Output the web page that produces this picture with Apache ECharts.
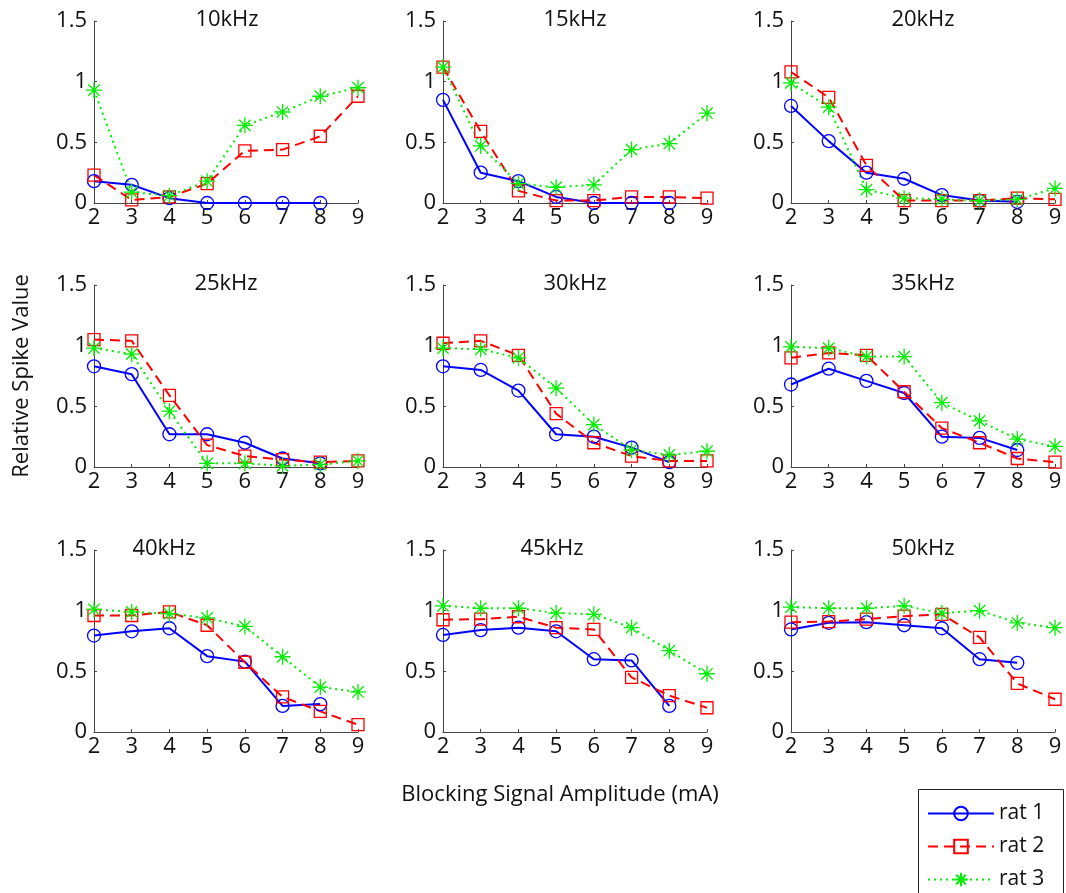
<!DOCTYPE html>
<html>
<head>
<meta charset="utf-8">
<script src="https://cdn.jsdelivr.net/npm/echarts@6/dist/echarts.min.js"></script>
<style>
  html, body { margin: 0; padding: 0; background: #fff; }
  #chart { width: 1066px; height: 893px; }
</style>
</head>
<body>
<div id="chart"></div>
<script>
// x values (mA)
const amplitudes = [2, 3, 4, 5, 6, 7, 8, 9]
const panelTitles = ['10kHz', '15kHz', '20kHz', '25kHz', '30kHz', '35kHz', '40kHz', '45kHz', '50kHz']
const seriesNames = ['rat 1', 'rat 2', 'rat 3']
const yTicks = [0, 0.5, 1, 1.5]

// rat 1 has no point at 9 mA
const rat1 = [
  [0.18, 0.15, 0.04, 0, 0, 0, 0],
  [0.85, 0.25, 0.18, 0.05, 0, 0, 0],
  [0.8, 0.51, 0.25, 0.2, 0.065, 0.02, 0.01],
  [0.83, 0.765, 0.27, 0.27, 0.2, 0.07, 0.03],
  [0.83, 0.8, 0.63, 0.27, 0.25, 0.16, 0.04],
  [0.68, 0.81, 0.71, 0.61, 0.25, 0.24, 0.14],
  [0.795, 0.83, 0.855, 0.625, 0.58, 0.215, 0.23],
  [0.8, 0.84, 0.86, 0.83, 0.6, 0.59, 0.215],
  [0.845, 0.9, 0.905, 0.88, 0.855, 0.6, 0.57]
]
const rat2 = [
  [0.23, 0.025, 0.05, 0.16, 0.43, 0.44, 0.55, 0.88],
  [1.12, 0.59, 0.1, 0.02, 0.02, 0.05, 0.05, 0.04],
  [1.08, 0.87, 0.31, 0.02, 0.02, 0.02, 0.04, 0.03],
  [1.05, 1.04, 0.59, 0.18, 0.09, 0.06, 0.04, 0.05],
  [1.02, 1.04, 0.92, 0.44, 0.2, 0.09, 0.05, 0.05],
  [0.9, 0.94, 0.92, 0.62, 0.32, 0.2, 0.07, 0.04],
  [0.96, 0.96, 0.99, 0.88, 0.575, 0.29, 0.17, 0.06],
  [0.925, 0.93, 0.95, 0.86, 0.845, 0.45, 0.3, 0.2],
  [0.905, 0.91, 0.93, 0.955, 0.97, 0.78, 0.4, 0.27]
]
const rat3 = [
  [0.93, 0.09, 0.06, 0.18, 0.64, 0.75, 0.88, 0.95],
  [1.12, 0.47, 0.16, 0.13, 0.15, 0.44, 0.49, 0.74],
  [0.99, 0.79, 0.11, 0.04, 0.03, 0.02, 0.03, 0.12],
  [0.98, 0.93, 0.46, 0.03, 0.03, 0.01, 0.02, 0.05],
  [0.98, 0.97, 0.9, 0.65, 0.35, 0.14, 0.1, 0.13],
  [0.99, 0.98, 0.91, 0.91, 0.53, 0.38, 0.23, 0.17],
  [1.01, 0.99, 0.975, 0.94, 0.87, 0.62, 0.37, 0.33],
  [1.04, 1.02, 1.02, 0.98, 0.97, 0.86, 0.67, 0.48],
  [1.03, 1.02, 1.02, 1.04, 0.98, 1.0, 0.9, 0.86]
]

const FONT = '"Open Sans", "Noto Sans", sans-serif'
const gridLefts = [94, 443, 791]
const gridTops = [21, 285, 550]
// title centres (some panels have the title shifted left)
const titleX = [227, 575, 923, 226, 575, 923, 164, 552, 923]

const asterisk = 'path://M0,-10L0,10M-10,0L10,0M-7.07,-7.07L7.07,7.07M-7.07,7.07L7.07,-7.07'
const styles = [
  { color: '#0000ff', symbol: 'circle', size: 13, type: 'solid' },
  { color: '#ff0000', symbol: 'rect', size: 12, type: [10, 6] },
  { color: '#00ee00', symbol: asterisk, size: 16, type: [2, 4] }
]
const allData = [rat1, rat2, rat3]

const grids = [], xAxes = [], yAxes = [], series = [], titles = []
panelTitles.forEach((name, i) => {
  const row = Math.floor(i / 3), col = i % 3
  grids.push({ left: gridLefts[col], top: gridTops[row], width: 264, height: 182 })
  xAxes.push({
    type: 'value', gridIndex: i, min: 2, max: 9, interval: 1,
    splitLine: { show: false },
    axisLine: { lineStyle: { color: '#444', width: 1 } },
    axisTick: { inside: true, length: 3, lineStyle: { color: '#444' } },
    axisLabel: { color: '#111', fontSize: 22, fontFamily: FONT, margin: 4 }
  })
  yAxes.push({
    type: 'value', gridIndex: i, min: yTicks[0], max: yTicks[yTicks.length - 1], interval: 0.5,
    splitLine: { show: false },
    axisLine: { show: true, lineStyle: { color: '#444', width: 1 } },
    axisTick: { show: true, inside: true, length: 3, lineStyle: { color: '#444' } },
    axisLabel: { color: '#111', fontSize: 22, fontFamily: FONT, margin: 7 }
  })
  titles.push({
    text: name, left: titleX[i], top: gridTops[row] - 12, textAlign: 'center', padding: 0,
    textStyle: { fontSize: 22, fontWeight: 'normal', color: '#111', fontFamily: FONT }
  })
  allData.forEach((rat, k) => {
    const st = styles[k]
    series.push({
      name: seriesNames[k],
      type: 'line',
      xAxisIndex: i, yAxisIndex: i,
      data: rat[i].map((v, j) => [amplitudes[j], v]),
      symbol: st.symbol,
      symbolSize: st.size,
      clip: false,
      lineStyle: { color: st.color, width: 2, type: st.type },
      itemStyle: { color: 'transparent', borderColor: st.color, borderWidth: 1.3 },
      emphasis: { disabled: true },
      animation: false
    })
  })
})

const chart = echarts.init(document.getElementById('chart'))
chart.setOption({
  backgroundColor: '#fff',
  title: titles,
  grid: grids,
  xAxis: xAxes,
  yAxis: yAxes,
  series: series,
  legend: {
    data: seriesNames,
    orient: 'vertical',
    left: 927, top: 803,
    height: 200,
    padding: 0,
    itemWidth: 66, itemHeight: 17, itemGap: 12,
    textStyle: { fontSize: 21, lineHeight: 17, color: '#111', fontFamily: FONT }
  },
  graphic: [
    {
      // legend box, runs past the bottom edge like the reference
      type: 'rect', z: -1, shape: { x: 918.5, y: 789.5, width: 145, height: 130 },
      style: { fill: '#fff', stroke: '#222', lineWidth: 1 }
    },
    {
      type: 'text', x: 22, y: 376, rotation: Math.PI / 2,
      style: { text: 'Relative Spike Value', fill: '#111', font: '22px ' + FONT, align: 'center', verticalAlign: 'middle' }
    },
    {
      type: 'text', x: 560, y: 795,
      style: { text: 'Blocking Signal Amplitude (mA)', fill: '#111', font: '22px ' + FONT, align: 'center', verticalAlign: 'middle' }
    }
  ]
})
</script>
</body>
</html>
